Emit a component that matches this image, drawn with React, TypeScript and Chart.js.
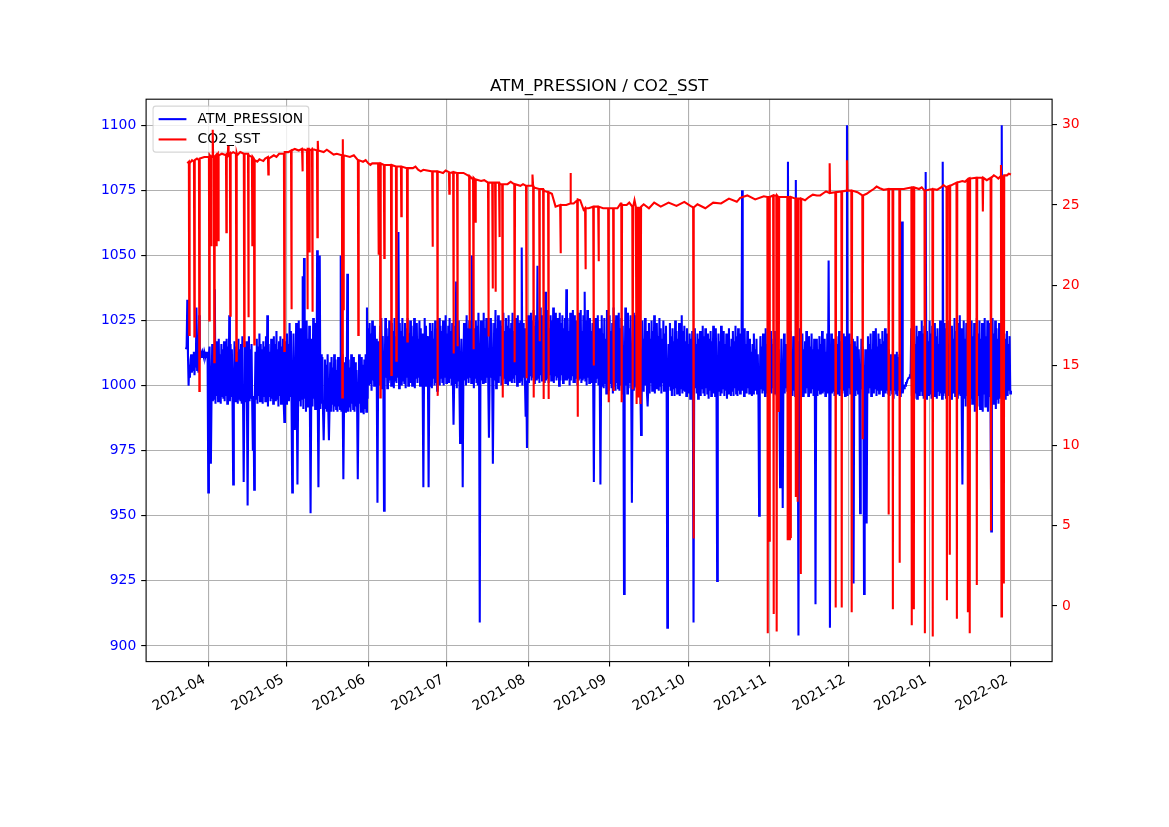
import React, { useEffect, useRef } from 'react';
import { Chart, registerables } from 'chart.js';

Chart.register(...registerables);

// ---------- data ----------
const TITLE = 'ATM_PRESSION / CO2_SST';
const SERIES_NAMES = ['ATM_PRESSION', 'CO2_SST'];

// x axis: days counted from 2021-04-01
const MONTH_TICK_DAYS = [0, 30, 61, 91, 122, 153, 183, 214, 244, 275, 306];
const MONTH_LABELS = [
  '2021-04', '2021-05', '2021-06', '2021-07', '2021-08', '2021-09',
  '2021-10', '2021-11', '2021-12', '2022-01', '2022-02',
];
const LEFT_TICKS = [900, 925, 950, 975, 1000, 1025, 1050, 1075, 1100];
const RIGHT_TICKS = [0, 5, 10, 15, 20, 25, 30];

// ATM_PRESSION sampled every 6 h, first sample on day -8.5 (2021-03-23 12:00); 8 samples = 2 days per row
const ATM_START_DAY = -8.5;
const ATM_STEP_DAYS = 0.25;
const ATM_PRESSION = [
  1014, 1015, 1033, 1012, 1000, 1008, 1003, 1010,
  1012, 1005, 1008, 1006, 1013, 1004, 1011, 1007,
  1030, 1006, 1010, 1005, 1027, 1010, 1013, 1011,
  1012, 1013, 1012, 1011, 1013, 1012, 1012, 1011,
  1013, 1010, 959, 1012, 1015, 995, 970, 996,
  1016, 994, 1014, 995, 1037, 993, 1017, 996,
  1015, 994, 1018, 995, 1012, 993, 1016, 996,
  1014, 995, 1017, 994, 1013, 996, 1018, 993,
  1015, 995, 1027, 994, 1016, 996, 1014, 993,
  962, 995, 1017, 994, 1015, 996, 1013, 993,
  1018, 995, 1014, 994, 1016, 993, 1019, 996,
  963, 994, 1015, 995, 1017, 993, 954, 996,
  1019, 994, 1014, 995, 1016, 993, 975, 996,
  960, 994, 1013, 995, 1018, 993, 1015, 996,
  1020, 994, 1016, 995, 1014, 993, 1017, 996,
  1015, 994, 1019, 995, 1027, 992, 1016, 996,
  1013, 994, 1018, 995, 1015, 993, 1019, 996,
  1016, 994, 1021, 995, 1014, 992, 1017, 996,
  1019, 993, 1015, 995, 1018, 994, 986, 996,
  1017, 993, 1020, 995, 1016, 994, 1024, 996,
  1021, 993, 959, 995, 1020, 994, 983, 996,
  1024, 992, 962, 995, 1025, 994, 1022, 992,
  1010, 995, 1042, 991, 1049, 995, 1022, 990,
  1025, 992, 1018, 995, 1023, 990, 951, 993,
  1018, 992, 1026, 995, 1020, 991, 1024, 994,
  1052, 993, 961, 995, 1050, 991, 1012, 993,
  1011, 990, 979, 992, 1010, 991, 1008, 990,
  1012, 991, 979, 992, 1009, 990, 1011, 993,
  1007, 990, 1012, 992, 1010, 991, 1006, 990,
  1011, 992, 1008, 991, 1050, 990, 1012, 993,
  964, 991, 1009, 990, 1011, 992, 1043, 990,
  1010, 992, 1007, 990, 1012, 993, 1008, 991,
  1011, 990, 1009, 992, 1006, 991, 964, 990,
  1012, 993, 1009, 990, 1011, 992, 1008, 989,
  1010, 991, 1012, 990, 1030, 995, 1022, 1000,
  1024, 1001, 1020, 998, 1025, 1002, 1019, 1000,
  1023, 1001, 1018, 999, 955, 1003, 1017, 1000,
  1023, 1002, 1026, 999, 1019, 1001, 952, 1000,
  1026, 1003, 1022, 999, 1019, 1001, 1025, 1002,
  1018, 1000, 1024, 1001, 1021, 999, 1026, 1002,
  1019, 1001, 1022, 1003, 1059, 999, 1024, 1003,
  1021, 1000, 1026, 1002, 1019, 1001, 1024, 999,
  1022, 1003, 1026, 1000, 1020, 1002, 1025, 1001,
  1023, 1000, 1019, 1002, 1026, 999, 1021, 1003,
  1024, 1001, 1018, 1003, 1025, 1000, 1022, 1002,
  1020, 999, 961, 1002, 1026, 1000, 1023, 1001,
  1019, 1003, 961, 1000, 1024, 1002, 1021, 999,
  1024, 1003, 1018, 1000, 1025, 1001, 1022, 998,
  1020, 1002, 1026, 1000, 1023, 1003, 1021, 1001,
  1025, 1000, 1022, 1003, 1027, 1001, 1020, 1004,
  1023, 1001, 1026, 1003, 1021, 1000, 1024, 1002,
  985, 1001, 1023, 1003, 1040, 999, 1021, 1002,
  1025, 1000, 978, 1003, 1018, 1001, 961, 1002,
  1024, 1002, 1020, 1000, 1027, 1003, 1022, 1001,
  1025, 1003, 1021, 1001, 1050, 1002, 1022, 999,
  1019, 1003, 1025, 1001, 1023, 1000, 1028, 1002,
  909, 1000, 1025, 1002, 1021, 1001, 1028, 1003,
  1022, 1001, 1026, 1003, 1021, 1000, 980, 1002,
  1026, 1003, 1024, 1001, 970, 1000, 1024, 1002,
  1029, 999, 1022, 1003, 1027, 1001, 1020, 1004,
  1025, 1000, 1023, 1002, 1028, 1003, 1021, 1001,
  1026, 1004, 1023, 1000, 1027, 1002, 1022, 1003,
  1024, 1001, 1028, 1003, 1021, 1001, 1026, 1004,
  1022, 1000, 1027, 1003, 1024, 1001, 1025, 1002,
  1053, 1000, 1024, 1003, 1022, 1001, 988, 1002,
  976, 1003, 1027, 1001, 1022, 1004, 1028, 1002,
  1025, 1003, 1029, 1001, 1023, 1004, 1027, 1002,
  1046, 1003, 1025, 1001, 1030, 1004, 1024, 1002,
  1027, 1003, 1029, 1001, 1036, 1002, 1024, 1003,
  1029, 1001, 1022, 1004, 1027, 1002, 1025, 1003,
  1030, 1001, 1023, 1004, 1028, 1002, 1026, 1003,
  1021, 1000, 1028, 1002, 1024, 1004, 1027, 1001,
  1022, 1003, 1026, 1002, 1037, 1002, 1026, 1003,
  1021, 1000, 1028, 1002, 1024, 1004, 1029, 1001,
  1027, 1001, 1022, 1003, 1025, 1000, 1028, 1002,
  1024, 1003, 1029, 1001, 1021, 1002, 1027, 1003,
  1036, 1002, 1025, 1000, 1029, 1003, 1022, 1001,
  1026, 1003, 1021, 1001, 1024, 1000, 963, 1002,
  1026, 1001, 1024, 1003, 1027, 1000, 1022, 1002,
  962, 1000, 1027, 1002, 1020, 999, 1026, 1001,
  1018, 997, 1029, 1000, 1023, 998, 1027, 1001,
  1021, 999, 1024, 997, 1030, 1000, 1025, 998,
  1027, 1001, 1021, 999, 1028, 998, 1022, 1000,
  1026, 997, 1023, 1001, 920, 998, 1030, 1000,
  1025, 997, 1028, 999, 1022, 1001, 1027, 998,
  955, 1001, 1028, 998, 1022, 1000, 1027, 999,
  1019, 998, 1026, 1000, 1024, 997, 981, 999,
  1025, 998, 1018, 1001, 1026, 1000, 1021, 997,
  992, 999, 1024, 997, 1018, 1001, 1025, 998,
  1021, 1000, 1027, 997, 1020, 999, 1024, 1001,
  1019, 998, 1026, 1000, 1022, 997, 1018, 1001,
  1025, 998, 1020, 999, 1023, 997, 907, 1000,
  1016, 1000, 1024, 998, 1019, 996, 1022, 999,
  1017, 996, 1025, 999, 1021, 997, 1018, 1000,
  1024, 996, 1019, 999, 1027, 997, 1021, 998,
  1023, 998, 1017, 996, 1022, 999, 1016, 997,
  1020, 995, 1018, 998, 1021, 996, 909, 1000,
  1022, 999, 1016, 997, 1020, 995, 1018, 998,
  1021, 996, 1017, 999, 1023, 997, 1019, 996,
  1022, 999, 1016, 997, 1020, 995, 1018, 998,
  1021, 996, 1017, 999, 1023, 997, 1019, 996,
  1022, 999, 925, 997, 1020, 998, 1017, 996,
  1023, 997, 1018, 999, 1021, 996, 1016, 998,
  1020, 995, 1019, 997, 1022, 999, 1015, 996,
  1018, 998, 1021, 996, 1017, 999, 1023, 997,
  1019, 996, 1022, 998, 1016, 997, 1020, 999,
  1075, 998, 1019, 996, 1022, 999, 1016, 997,
  1021, 999, 1014, 997, 1018, 998, 1013, 996,
  1016, 997, 1020, 999, 1014, 998, 1018, 997,
  1012, 996, 950, 997, 1019, 999, 1015, 997,
  1020, 998, 1013, 996, 1022, 999, 1016, 997,
  1019, 996, 1014, 998, 1021, 997, 1016, 999,
  1018, 997, 1021, 999, 1015, 996, 1020, 998,
  1014, 997, 961, 998, 1018, 996, 953, 999,
  1020, 997, 1016, 999, 1014, 998, 1086, 997,
  1016, 999, 1021, 997, 1013, 996, 1019, 998,
  1015, 996, 1079, 998, 1017, 997, 904, 999,
  1022, 998, 1015, 997, 1020, 996, 1014, 999,
  1017, 997, 1021, 999, 1013, 996, 1019, 998,
  1015, 997, 1020, 999, 1014, 996, 1018, 998,
  916, 999, 1018, 996, 1014, 998, 1019, 997,
  1016, 999, 1021, 997, 1015, 998, 1018, 996,
  1013, 999, 1020, 997, 1048, 998, 907, 996,
  1020, 997, 1015, 998, 1018, 996, 1013, 999,
  1019, 997, 1016, 998, 1021, 996, 1014, 999,
  1017, 997, 1020, 998, 1015, 996, 1019, 999,
  1100, 996, 1014, 999, 1020, 997, 1016, 998,
  1018, 997, 924, 999, 1017, 996, 1015, 998,
  1019, 997, 1014, 998, 951, 996, 1018, 999,
  1015, 997, 920, 998, 1014, 996, 947, 999,
  1019, 997, 1016, 999, 1020, 996, 1014, 998,
  1021, 997, 1017, 999, 1022, 996, 1015, 998,
  1020, 997, 1018, 999, 1016, 998, 1021, 996,
  1017, 999, 1022, 997, 1015, 998, 1020, 997,
  1014, 996, 1012, 998, 1011, 997, 1013, 995,
  1012, 998, 1010, 997, 1013, 996, 1011, 998,
  1012, 996, 1010, 998, 1063, 997, 999, 999,
  1000, 1000, 1001, 1001, 1002, 1002, 1003, 1003,
  1004, 1004, 1022, 996, 1018, 997, 1024, 995,
  1016, 997, 1023, 995, 1019, 998, 1021, 996,
  1017, 998, 1025, 996, 1020, 995, 1023, 997,
  1082, 995, 1021, 998, 1017, 996, 1025, 997,
  1020, 995, 1023, 998, 1018, 996, 1024, 997,
  1019, 995, 1022, 998, 1016, 996, 1025, 997,
  1020, 995, 1086, 996, 1024, 997, 1019, 995,
  1022, 998, 1016, 996, 1025, 997, 1020, 995,
  1023, 998, 1018, 997, 1026, 996, 1021, 998,
  1024, 995, 1019, 997, 1027, 996, 1022, 990,
  962, 997, 1025, 995, 1018, 992, 1024, 996,
  1021, 994, 1026, 990, 1020, 995, 1025, 993,
  1019, 996, 1024, 990, 1021, 995, 1026, 992,
  1020, 996, 1025, 991, 1018, 995, 1024, 990,
  1022, 997, 1026, 992, 1019, 995, 1025, 990,
  1021, 996, 1024, 990, 944, 995, 1026, 993,
  1020, 996, 1025, 991, 1022, 995, 1018, 993,
  1024, 995, 1021, 996, 1100, 993, 1023, 997,
  1020, 995, 1018, 998, 1021, 996, 1016, 998,
  1019, 997, 998,
];

// CO2_SST as [day, value] readings
const CO2_SST: [number, number][] = [
  [-8.0, 27.6],
  [-7.4, 27.7], [-7.25, 16.9], [-7.1, 27.6],
  [-6.2, 27.8],
  [-5.45, 27.7], [-5.3, 16.8], [-5.15, 27.8],
  [-4.3, 27.9],
  [-3.55, 27.8], [-3.4, 13.4], [-3.25, 27.9],
  [-1.5, 28.0],
  [0.25, 28.0], [0.4, 17.8], [0.55, 28.1],
  [0.95, 28.0], [1.1, 22.5], [1.25, 28.0],
  [1.55, 28.1], [1.7, 29.7], [1.85, 28.0],
  [2.15, 28.1], [2.3, 15.2], [2.45, 28.0],
  [2.9, 28.1], [3.05, 22.5], [3.2, 28.1],
  [3.65, 28.2], [3.8, 22.8], [3.95, 28.1],
  [5.2, 28.2],
  [6.75, 28.1], [6.9, 23.3], [7.05, 28.2],
  [7.45, 28.2], [7.6, 28.7], [7.75, 28.1],
  [8.25, 28.2], [8.4, 18.1], [8.55, 28.2],
  [9.5, 28.3],
  [10.55, 28.2], [10.7, 15.3], [10.85, 28.2],
  [11.0, 28.1],
  [12.2, 28.3],
  [13.55, 28.2], [13.7, 16.2], [13.85, 28.2],
  [15.15, 28.2], [15.3, 18.0], [15.45, 28.1],
  [16.65, 28.0], [16.8, 22.5], [16.95, 28.0],
  [17.4, 27.9], [17.55, 16.3], [17.7, 27.8],
  [18.7, 27.7],
  [19.5, 27.85],
  [20.2, 27.8],
  [21.0, 27.75],
  [21.7, 27.9],
  [22.75, 28.0], [22.9, 26.9], [23.05, 27.9],
  [25.0, 28.1],
  [26.0, 28.0],
  [27.0, 28.2],
  [28.85, 28.2], [29.0, 15.9], [29.15, 28.3],
  [30.5, 28.3],
  [31.55, 28.4], [31.7, 18.5], [31.85, 28.4],
  [33.0, 28.5],
  [34.5, 28.4],
  [35.75, 28.5], [35.9, 27.1], [36.05, 28.5],
  [37.65, 28.4], [37.8, 18.5], [37.95, 28.5],
  [38.35, 28.5], [38.5, 22.1], [38.65, 28.4],
  [39.55, 28.5], [39.7, 18.35], [39.85, 28.5],
  [41.45, 28.4], [41.6, 23.0], [41.75, 29.0], [41.9, 28.4],
  [44.0, 28.3],
  [45.2, 28.45],
  [46.5, 28.3],
  [47.8, 28.15],
  [49.0, 28.2],
  [50.95, 28.1], [51.1, 13.0], [51.3, 29.1], [51.5, 18.5], [51.65, 28.1],
  [54.0, 28.0],
  [55.5, 28.1],
  [57.05, 27.8], [57.2, 16.9], [57.35, 27.8],
  [59.0, 27.7],
  [60.0, 27.8],
  [61.0, 27.6],
  [61.8, 27.5],
  [62.5, 27.6],
  [64.75, 27.6], [64.9, 21.9], [65.05, 27.6], [65.45, 27.6], [65.6, 13.0], [65.75, 27.6],
  [66.95, 27.5], [67.1, 21.7], [67.25, 27.5],
  [69.65, 27.5], [69.8, 14.4], [69.95, 27.5],
  [71.55, 27.4], [71.7, 15.3], [71.85, 27.4],
  [73.45, 27.4], [73.6, 24.3], [73.75, 27.4],
  [75.75, 27.3], [75.9, 16.5], [76.05, 27.3],
  [78.0, 27.3],
  [79.0, 27.4],
  [80.0, 27.2],
  [81.0, 27.1],
  [82.0, 27.2],
  [85.35, 27.1], [85.5, 22.4], [85.65, 27.1],
  [87.25, 27.1], [87.4, 13.1], [87.55, 27.1],
  [89.5, 27.0],
  [90.5, 27.15],
  [91.75, 27.05], [91.9, 25.7], [92.05, 27.0],
  [93.35, 27.05], [93.5, 15.75], [93.65, 27.05],
  [94.85, 27.0], [95.0, 16.2], [95.15, 27.0],
  [97.3, 27.0],
  [99.45, 26.8], [99.6, 17.3], [99.75, 26.8],
  [100.95, 26.6], [101.1, 16.0], [101.25, 26.7], [101.75, 26.6], [101.9, 23.9], [102.05, 26.6],
  [104.0, 26.5],
  [105.2, 26.55],
  [106.65, 26.4], [106.8, 16.8], [106.95, 26.4],
  [108.25, 26.4], [108.4, 19.8], [108.55, 26.4],
  [109.35, 26.4], [109.5, 19.6], [109.65, 26.4],
  [110.85, 26.4], [111.0, 23.0], [111.15, 26.3],
  [112.05, 26.3], [112.2, 13.0], [112.35, 26.3],
  [114.1, 26.3],
  [115.3, 26.45],
  [116.65, 26.3], [116.8, 15.2], [116.95, 26.3],
  [119.0, 26.2],
  [120.0, 26.3],
  [121.15, 26.2], [121.3, 14.2], [121.45, 26.2],
  [123.45, 26.2], [123.6, 26.9], [123.85, 26.2], [124.0, 13.0], [124.15, 26.1],
  [126.15, 26.0], [126.3, 16.5], [126.45, 26.0],
  [127.65, 26.0], [127.8, 12.9], [127.95, 25.9],
  [129.55, 25.8], [129.7, 12.9], [129.85, 25.8],
  [131.0, 25.7],
  [132.4, 24.9],
  [134.15, 25.0], [134.3, 22.0], [134.45, 25.0],
  [136.5, 25.0],
  [137.95, 25.1], [138.1, 27.0], [138.25, 25.1],
  [139.3, 25.1],
  [140.65, 25.3], [140.8, 11.8], [140.95, 25.35],
  [141.8, 25.3],
  [143.1, 24.7],
  [143.65, 24.8], [143.8, 21.0], [143.95, 24.8],
  [145.0, 24.8],
  [146.75, 24.9], [146.9, 15.0], [147.05, 24.9],
  [148.65, 24.9], [148.8, 21.5], [148.95, 24.9],
  [150.5, 24.8],
  [152.45, 24.8], [152.6, 12.7], [152.75, 24.8],
  [154.35, 24.8], [154.5, 13.4], [154.65, 24.8],
  [156.0, 24.8],
  [157.2, 25.1],
  [157.45, 25.1], [157.6, 12.7], [157.75, 25.0],
  [159.5, 25.0],
  [160.5, 25.15],
  [161.65, 24.9], [161.8, 13.5], [162.0, 24.9], [162.5, 25.3], [163.0, 24.9], [163.3, 12.6],
  [163.6, 24.9], [164.1, 13.0], [164.4, 24.9], [164.8, 12.6], [165.0, 24.9],
  [166.0, 25.05],
  [168.0, 24.8],
  [170.0, 25.15],
  [172.5, 24.9],
  [175.5, 25.15],
  [178.5, 24.95],
  [181.5, 25.2],
  [183.8, 24.95],
  [184.85, 24.85], [185.0, 4.2], [185.15, 24.85],
  [186.5, 25.05],
  [189.5, 24.8],
  [192.5, 25.15],
  [195.5, 25.1],
  [198.5, 25.4],
  [201.5, 25.2],
  [202.8, 25.45],
  [205.5, 25.6],
  [208.5, 25.35],
  [211.8, 25.55],
  [213.15, 25.5], [213.3, -1.7], [213.45, 25.5],
  [213.85, 25.5], [214.0, 4.0], [214.15, 25.5],
  [215.35, 25.6], [215.5, -0.5], [215.65, 25.6],
  [216.55, 25.6], [216.7, -1.6], [216.85, 25.6],
  [217.35, 25.5], [217.5, 12.1], [217.65, 25.5],
  [219.0, 25.5],
  [220.75, 25.5], [220.9, 4.1], [221.05, 25.5],
  [221.55, 25.5], [221.7, 4.1], [221.9, 4.3], [222.1, 25.5],
  [223.85, 25.4], [224.0, 6.8], [224.15, 25.4],
  [224.55, 25.4], [224.7, 6.5], [224.85, 25.4],
  [225.75, 25.4], [225.9, 2.0], [226.05, 25.4],
  [227.5, 25.3],
  [229.0, 25.5],
  [230.5, 25.65],
  [232.0, 25.6],
  [233.3, 25.6],
  [234.6, 25.75],
  [235.5, 25.85],
  [236.75, 25.75], [236.9, 27.6], [237.05, 25.75],
  [239.05, 25.8], [239.2, -0.1], [239.35, 25.8],
  [241.35, 25.85], [241.5, -0.1], [241.65, 25.85],
  [243.35, 25.9], [243.5, 27.8], [243.65, 25.9],
  [245.15, 25.9], [245.3, -0.4], [245.45, 25.9],
  [247.5, 25.8],
  [249.35, 25.6], [249.5, 10.4], [249.65, 25.6],
  [251.0, 25.7],
  [252.3, 25.85],
  [253.7, 26.0],
  [254.8, 26.15],
  [256.0, 26.05],
  [257.5, 25.95],
  [259.25, 26.0], [259.4, 5.7], [259.55, 26.0],
  [260.85, 26.0], [261.0, -0.2], [261.15, 26.0],
  [263.45, 26.0], [263.6, 2.7], [263.75, 26.0],
  [265.2, 26.0],
  [266.5, 26.05],
  [268.05, 26.1], [268.2, -1.2], [268.35, 26.1],
  [268.85, 26.1], [269.0, -0.2], [269.15, 26.1],
  [271.0, 26.0],
  [272.0, 26.1],
  [273.05, 25.9], [273.2, -1.7], [273.35, 25.9],
  [276.05, 26.0], [276.2, -1.9], [276.35, 26.0],
  [277.8, 25.95],
  [279.3, 26.1],
  [280.3, 26.25],
  [281.45, 26.1], [281.6, 0.35], [281.75, 26.15],
  [282.55, 26.2], [282.7, 3.2], [282.85, 26.2],
  [285.25, 26.4], [285.4, -0.8], [285.55, 26.4],
  [287.5, 26.5],
  [288.5, 26.45],
  [289.45, 26.6], [289.6, -0.4], [289.75, 26.6],
  [290.15, 26.65], [290.3, -1.7], [290.45, 26.65],
  [292.85, 26.7], [293.0, 1.3], [293.15, 26.7],
  [295.15, 26.7], [295.3, 24.6], [295.45, 26.7],
  [296.8, 26.55],
  [298.25, 26.7], [298.4, 4.7], [298.55, 26.7],
  [299.5, 26.85],
  [300.5, 26.75],
  [301.2, 26.65],
  [302.05, 26.8], [302.2, 27.5], [302.4, -0.65], [302.6, 26.8],
  [303.15, 26.8], [303.3, 1.4], [303.45, 26.85],
  [304.5, 26.85],
  [305.2, 26.95],
  [306.0, 26.9],
];

// ---------- chart ----------
const W = 1169;
const H = 827;
const AREA = { left: 146.1, right: 1052.1, top: 99.2, bottom: 661.6 };
const FONT = "'DejaVu Sans', sans-serif";
const TICK_PX = 13.9;

export default function App() {
  const ref = useRef<HTMLCanvasElement>(null);

  useEffect(() => {
    document.body.style.margin = '0';
    const canvas = ref.current;
    if (!canvas) return;

    const atmPoints = ATM_PRESSION.map((v, i) => ({ x: ATM_START_DAY + i * ATM_STEP_DAYS, y: v }));
    const co2Points = CO2_SST.map(([d, v]) => ({ x: d, y: v }));

    const mplPlugin = {
      id: 'mplDecor',
      afterDatasetDraw(chart: any, args: any) {
        if (args.index !== 0) return;
        // legend of the left axes (drawn below the right-axes line)
        const ctx = chart.ctx as CanvasRenderingContext2D;
        const ca = chart.chartArea;
        ctx.save();
        ctx.font = `${TICK_PX}px ${FONT}`;
        const textW = Math.max(...SERIES_NAMES.map((s) => ctx.measureText(s).width));
        const bx = ca.left + 6.95;
        const by = ca.top + 6.95;
        const handle = 27.8;
        const bw = 5.56 + handle + 11.1 + textW + 5.56;
        const bh = 46;
        const r = 2.8;
        ctx.beginPath();
        ctx.moveTo(bx + r, by);
        ctx.lineTo(bx + bw - r, by);
        ctx.arcTo(bx + bw, by, bx + bw, by + r, r);
        ctx.lineTo(bx + bw, by + bh - r);
        ctx.arcTo(bx + bw, by + bh, bx + bw - r, by + bh, r);
        ctx.lineTo(bx + r, by + bh);
        ctx.arcTo(bx, by + bh, bx, by + bh - r, r);
        ctx.lineTo(bx, by + r);
        ctx.arcTo(bx, by, bx + r, by, r);
        ctx.closePath();
        ctx.fillStyle = 'rgba(255,255,255,0.8)';
        ctx.fill();
        ctx.strokeStyle = 'rgba(204,204,204,0.8)';
        ctx.lineWidth = 1.1;
        ctx.stroke();
        const colors = ['#0000ff', '#ff0000'];
        const rows = [by + 13.0, by + 33.3];
        SERIES_NAMES.forEach((name, i) => {
          ctx.beginPath();
          ctx.strokeStyle = colors[i];
          ctx.lineWidth = 2.08;
          ctx.moveTo(bx + 5.56, rows[i]);
          ctx.lineTo(bx + 5.56 + handle, rows[i]);
          ctx.stroke();
          ctx.fillStyle = '#000';
          ctx.textBaseline = 'middle';
          ctx.textAlign = 'left';
          ctx.fillText(name, bx + 5.56 + handle + 11.1, rows[i]);
        });
        ctx.restore();
      },
      afterDraw(chart: any) {
        const ctx = chart.ctx as CanvasRenderingContext2D;
        const ca = chart.chartArea;
        ctx.save();
        ctx.strokeStyle = '#000';
        ctx.lineWidth = 1.1;
        ctx.strokeRect(ca.left, ca.top, ca.right - ca.left, ca.bottom - ca.top);
        ctx.fillStyle = '#000';
        ctx.font = `16.7px ${FONT}`;
        ctx.textAlign = 'center';
        ctx.textBaseline = 'alphabetic';
        ctx.fillText(TITLE, (ca.left + ca.right) / 2, ca.top - 8.3);
        ctx.restore();
      },
    };

    const chart = new Chart(canvas, {
      type: 'line',
      data: {
        datasets: [
          {
            label: SERIES_NAMES[0],
            data: atmPoints,
            yAxisID: 'y',
            borderColor: '#0000ff',
            borderWidth: 2.08,
            pointRadius: 0,
            tension: 0,
            order: 1,
          },
          {
            label: SERIES_NAMES[1],
            data: co2Points,
            yAxisID: 'y1',
            borderColor: '#ff0000',
            borderWidth: 2.08,
            pointRadius: 0,
            tension: 0,
            order: 0,
          },
        ],
      },
      options: {
        responsive: false,
        animation: false,
        events: [],
        layout: { padding: { top: AREA.top, left: 0, right: 0, bottom: 0 } },
        plugins: {
          legend: { display: false },
          title: { display: false },
          tooltip: { enabled: false },
        },
        scales: {
          x: {
            type: 'linear',
            position: 'bottom',
            min: -23.7,
            max: 321.7,
            afterBuildTicks: (scale: any) => {
              scale.ticks = MONTH_TICK_DAYS.map((v) => ({ value: v }));
            },
            afterFit: (scale: any) => {
              scale.height = H - AREA.bottom;
            },
            grid: {
              color: '#b0b0b0',
              lineWidth: 1.11,
              tickColor: '#000',
              tickLength: 4.9,
              drawTicks: true,
            },
            border: { display: false },
            ticks: {
              autoSkip: false,
              maxRotation: 30,
              minRotation: 30,
              padding: 4.9,
              labelOffset: -4,
              color: '#000',
              font: { family: FONT, size: TICK_PX },
              callback: (v: any) => {
                const i = MONTH_TICK_DAYS.indexOf(Number(v));
                return i >= 0 ? MONTH_LABELS[i] : '';
              },
            },
          },
          y: {
            type: 'linear',
            position: 'left',
            min: 894,
            max: 1110,
            afterBuildTicks: (scale: any) => {
              scale.ticks = LEFT_TICKS.map((v) => ({ value: v }));
            },
            afterFit: (scale: any) => {
              scale.width = AREA.left;
            },
            grid: {
              color: '#b0b0b0',
              lineWidth: 1.11,
              tickColor: '#000',
              tickLength: 4.9,
              drawTicks: true,
            },
            border: { display: false },
            ticks: {
              autoSkip: false,
              padding: 4.9,
              color: '#0000ff',
              font: { family: FONT, size: TICK_PX },
              callback: (v: any) => String(v),
            },
          },
          y1: {
            type: 'linear',
            position: 'right',
            min: -3.47,
            max: 31.6,
            afterBuildTicks: (scale: any) => {
              scale.ticks = RIGHT_TICKS.map((v) => ({ value: v }));
            },
            afterFit: (scale: any) => {
              scale.width = W - AREA.right;
            },
            grid: {
              drawOnChartArea: false,
              color: '#000',
              tickColor: '#000',
              lineWidth: 1.11,
              tickLength: 4.9,
              drawTicks: true,
            },
            border: { display: false },
            ticks: {
              autoSkip: false,
              padding: 4.9,
              color: '#ff0000',
              font: { family: FONT, size: TICK_PX },
              callback: (v: any) => String(v),
            },
          },
        },
      },
      plugins: [mplPlugin],
    } as any);

    return () => {
      chart.destroy();
    };
  }, []);

  return (
    <div style={{ width: W, height: H }}>
      <canvas ref={ref} width={W} height={H} style={{ display: 'block', width: W, height: H }} />
    </div>
  );
}
